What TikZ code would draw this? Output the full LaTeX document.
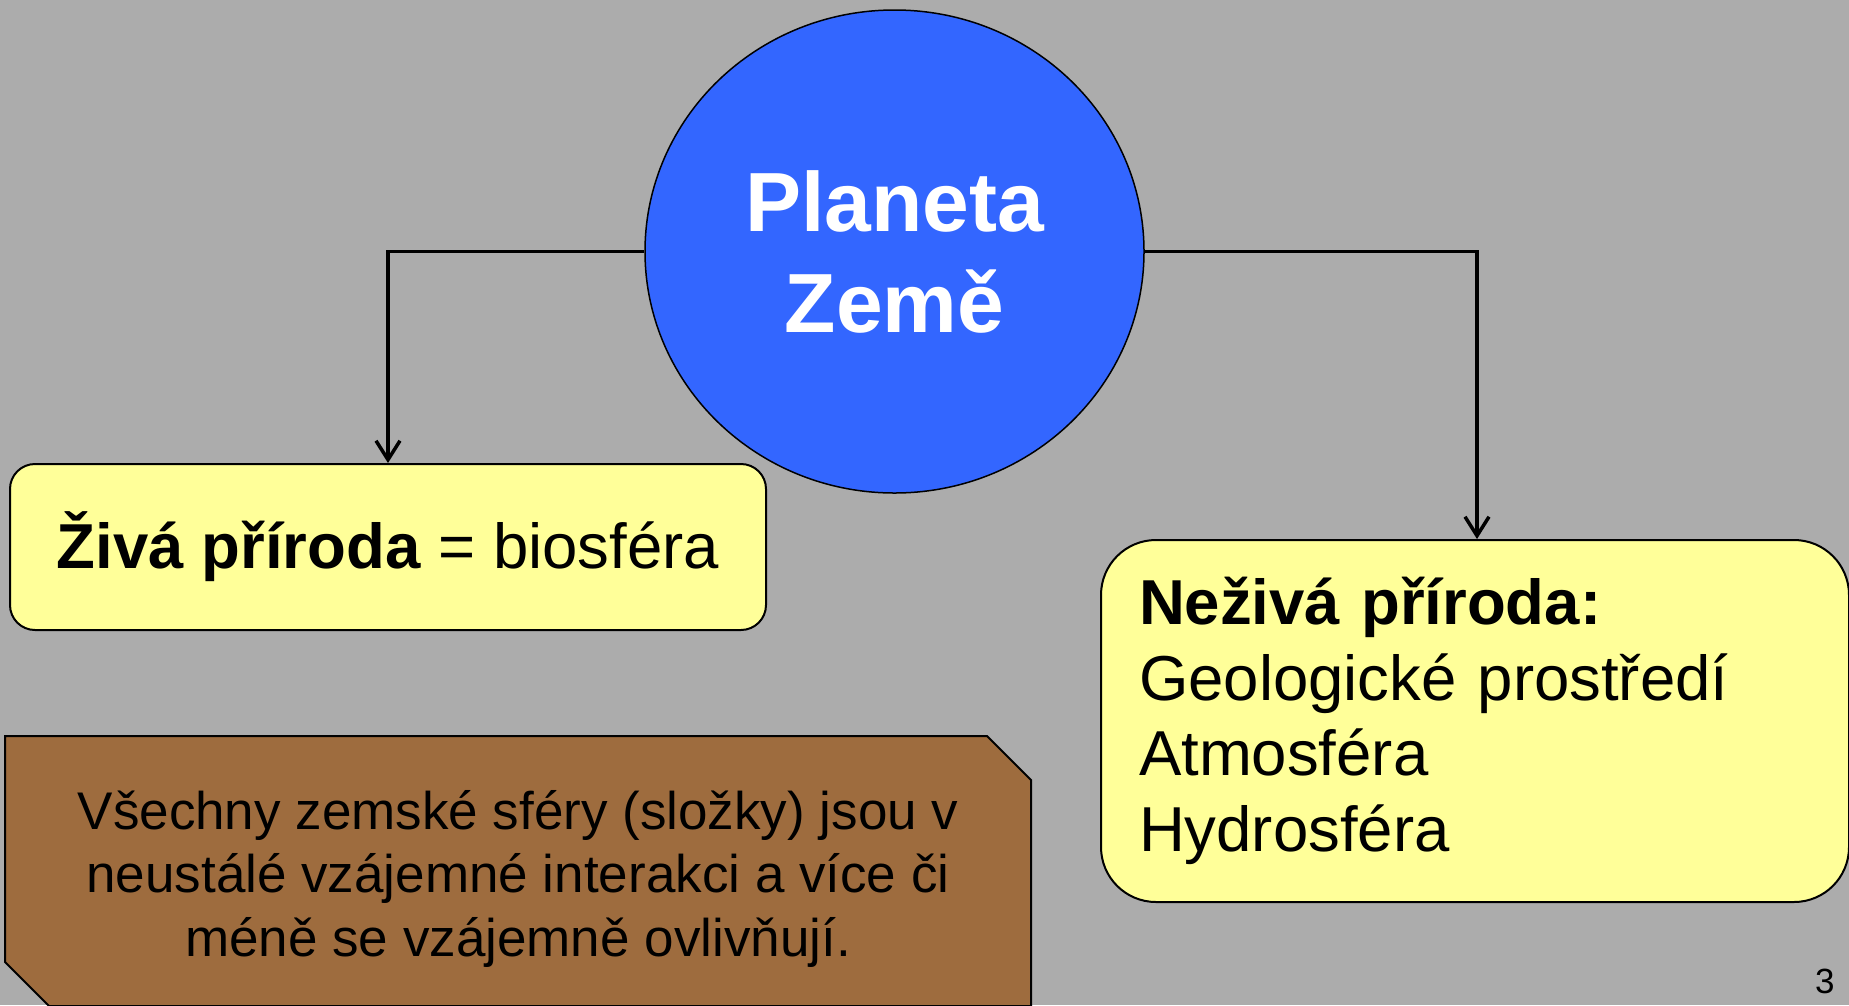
\documentclass[tikz,border=0pt]{standalone}
\usepackage{fontspec}
\setmainfont{Liberation Sans}
\usetikzlibrary{shapes.geometric,shapes.misc,arrows.meta}
\definecolor{bggray}{RGB}{172,172,172}
\definecolor{planetblue}{RGB}{51,102,255}
\definecolor{boxyellow}{RGB}{255,255,153}
\definecolor{boxbrown}{RGB}{158,108,62}
\begin{document}
\begin{tikzpicture}[x=1pt,y=-1pt,
    planet/.style={ellipse,draw,line width=1.5pt,fill=planetblue,text=white,
      minimum width=499pt,minimum height=483pt,inner sep=0pt,align=center,
      font=\fontsize{84}{101}\selectfont\bfseries},
    infobox/.style={rectangle,draw,line width=2pt,fill=boxyellow,inner sep=0pt,
      font=\fontsize{63.5}{75.5}\selectfont},
    notebox/.style={chamfered rectangle,chamfered rectangle corners={north east,south west},
      chamfered rectangle xsep=22pt,chamfered rectangle ysep=22pt,
      draw,line width=2pt,fill=boxbrown,inner sep=0pt,align=center,
      minimum width=1026pt,minimum height=270pt,
      font=\fontsize{53}{63.5}\selectfont},
    link/.style={line width=3.5pt,-{Straight Barb[length=19pt,width=24pt]}}]
  \useasboundingbox (0,0) rectangle (1849,1005);
  \fill[bggray] (0,0) rectangle (1849,1005);
  \node[planet] (planeta) at (894.5,251.5) {Planeta\\Země};
  \node[infobox,rounded corners=25pt,minimum width=756pt,minimum height=166pt]
    (ziva) at (388,547) {\textbf{Živá příroda} = biosféra};
  \node[infobox,rounded corners=55pt,minimum width=748pt,minimum height=362pt,
    text width=672pt,align=left] (nezive) at (1475,721)
    {\textbf{Neživá příroda:}\\Geologické prostředí\\Atmosféra\\Hydrosféra};
  \node[notebox] (sfery) at (518,871)
    {\rule{0pt}{54pt}Všechny zemské sféry (složky) jsou v\\neustálé vzájemné interakci a více či\\méně se vzájemně ovlivňují.};
  \node[anchor=base east,font=\fontsize{35}{42}\selectfont] (cislo) at (1838,993) {3};
  \draw[link] (planeta.west) -| (ziva.north);
  \draw[link] (planeta.east) -| ([xshift=2pt]nezive.north);
\end{tikzpicture}
\end{document}
